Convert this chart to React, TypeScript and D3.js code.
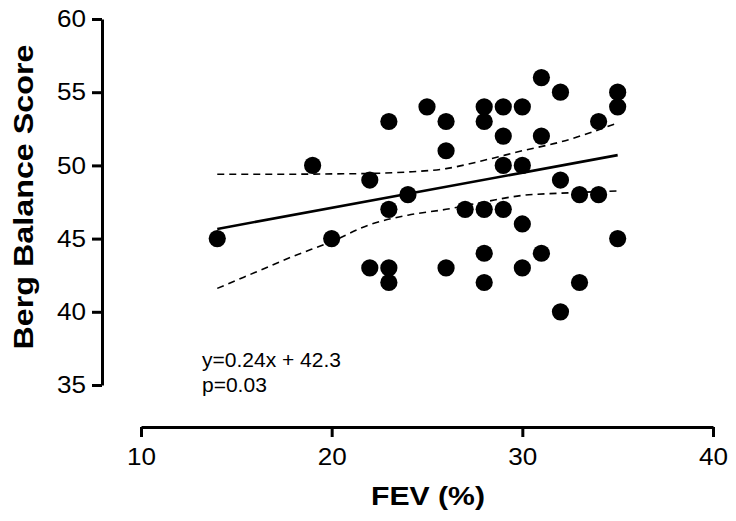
import React, { useRef, useEffect } from "react";
import * as d3 from "d3";

// FEV (%) vs Berg Balance Score, one entry per subject
const fevValues = [
  14, 19, 20, 22, 22, 23, 23, 23, 23, 24, 25, 26, 26, 26, 27, 28, 28, 28, 28, 28, 29,
  29, 29, 29, 30, 30, 30, 30, 31, 31, 31, 32, 32, 32, 33, 33, 34, 34, 35, 35, 35,
];
const bergValues = [
  45, 50, 45, 49, 43, 53, 47, 43, 42, 48, 54, 53, 51, 43, 47, 54, 53, 47, 44, 42, 54,
  52, 50, 47, 54, 50, 46, 43, 56, 52, 44, 55, 49, 40, 48, 42, 53, 48, 55, 54, 45,
];

// confidence band
const bandX = [14, 16, 18, 20, 22, 24, 26, 28, 30, 32, 35];
const bandUpper = [49.4, 49.4, 49.4, 49.42, 49.45, 49.55, 49.78, 50.35, 51.0, 51.6, 52.9];
const bandLower = [41.6, 42.7, 43.8, 44.8, 45.95, 46.6, 47.0, 47.5, 47.95, 48.1, 48.25];

const slope = 0.24;
const intercept = 42.3;
const fitRange = [14, 35];

const xTicks = [10, 20, 30, 40];
const yTicks = [35, 40, 45, 50, 55, 60];

const width = 736;
const height = 521;
const font = "'Liberation Sans', Arial, sans-serif";

const App = () => {
  const svgRef = useRef<SVGSVGElement>(null);

  useEffect(() => {
    const svg = d3.select(svgRef.current);
    svg.selectAll("*").remove();

    const x = d3.scaleLinear().domain([10, 40]).range([141, 713]);
    const y = d3.scaleLinear().domain([35, 60]).range([385, 19]);

    // axes
    const yAxis = svg
      .append("g")
      .attr("transform", "translate(102,0)")
      .call(d3.axisLeft(y).tickValues(yTicks).tickSize(10).tickSizeOuter(0).tickPadding(6));
    const xAxis = svg
      .append("g")
      .attr("transform", "translate(0,427)")
      .call(d3.axisBottom(x).tickValues(xTicks).tickSize(10).tickSizeOuter(0).tickPadding(11));

    [yAxis, xAxis].forEach((ax) => {
      ax.select(".domain").attr("stroke", "#000").attr("stroke-width", 3);
      ax.selectAll(".tick line").attr("stroke", "#000").attr("stroke-width", 3);
      ax.selectAll(".tick text")
        .attr("fill", "#000")
        .attr("textLength", 29)
        .attr("lengthAdjust", "spacingAndGlyphs")
        .style("font-family", font)
        .style("font-size", "24px");
    });

    // band
    const bandLine = d3
      .line<number>()
      .x((d, i) => x(bandX[i]))
      .y((d) => y(d))
      .curve(d3.curveMonotoneX);

    [bandUpper, bandLower].forEach((b) => {
      svg.append("path")
        .attr("d", bandLine(b))
        .attr("fill", "none")
        .attr("stroke", "#000")
        .attr("stroke-width", 1.6)
        .attr("stroke-dasharray", "7,5");
    });

    // fit line
    svg.append("line")
      .attr("x1", x(fitRange[0]))
      .attr("y1", y(slope * fitRange[0] + intercept))
      .attr("x2", x(fitRange[1]))
      .attr("y2", y(slope * fitRange[1] + intercept))
      .attr("stroke", "#000")
      .attr("stroke-width", 2.6);

    // points
    svg.append("g")
      .selectAll("circle")
      .data(fevValues)
      .enter()
      .append("circle")
      .attr("cx", (d) => x(d))
      .attr("cy", (d, i) => y(bergValues[i]))
      .attr("r", 8.6)
      .attr("fill", "#000");

    // annotation
    svg.append("text")
      .attr("x", 202)
      .attr("y", 367)
      .text("y=0.24x + 42.3")
      .style("font-family", font)
      .style("font-size", "21px");
    svg.append("text")
      .attr("x", 202)
      .attr("y", 392)
      .text("p=0.03")
      .style("font-family", font)
      .style("font-size", "21px");

    // axis titles
    svg.append("text")
      .attr("x", 428)
      .attr("y", 505)
      .attr("text-anchor", "middle")
      .attr("textLength", 114)
      .attr("lengthAdjust", "spacingAndGlyphs")
      .text("FEV (%)")
      .style("font-family", font)
      .style("font-weight", "bold")
      .style("font-size", "26px");
    svg.append("text")
      .attr("transform", "translate(33,197) rotate(-90)")
      .attr("text-anchor", "middle")
      .attr("textLength", 305)
      .attr("lengthAdjust", "spacingAndGlyphs")
      .text("Berg Balance Score")
      .style("font-family", font)
      .style("font-weight", "bold")
      .style("font-size", "28px");
  });

  return (
    <svg
      ref={svgRef}
      width={width}
      height={height}
      style={{ position: "absolute", left: 0, top: 0, background: "#fff" }}
    />
  );
};

export default App;
